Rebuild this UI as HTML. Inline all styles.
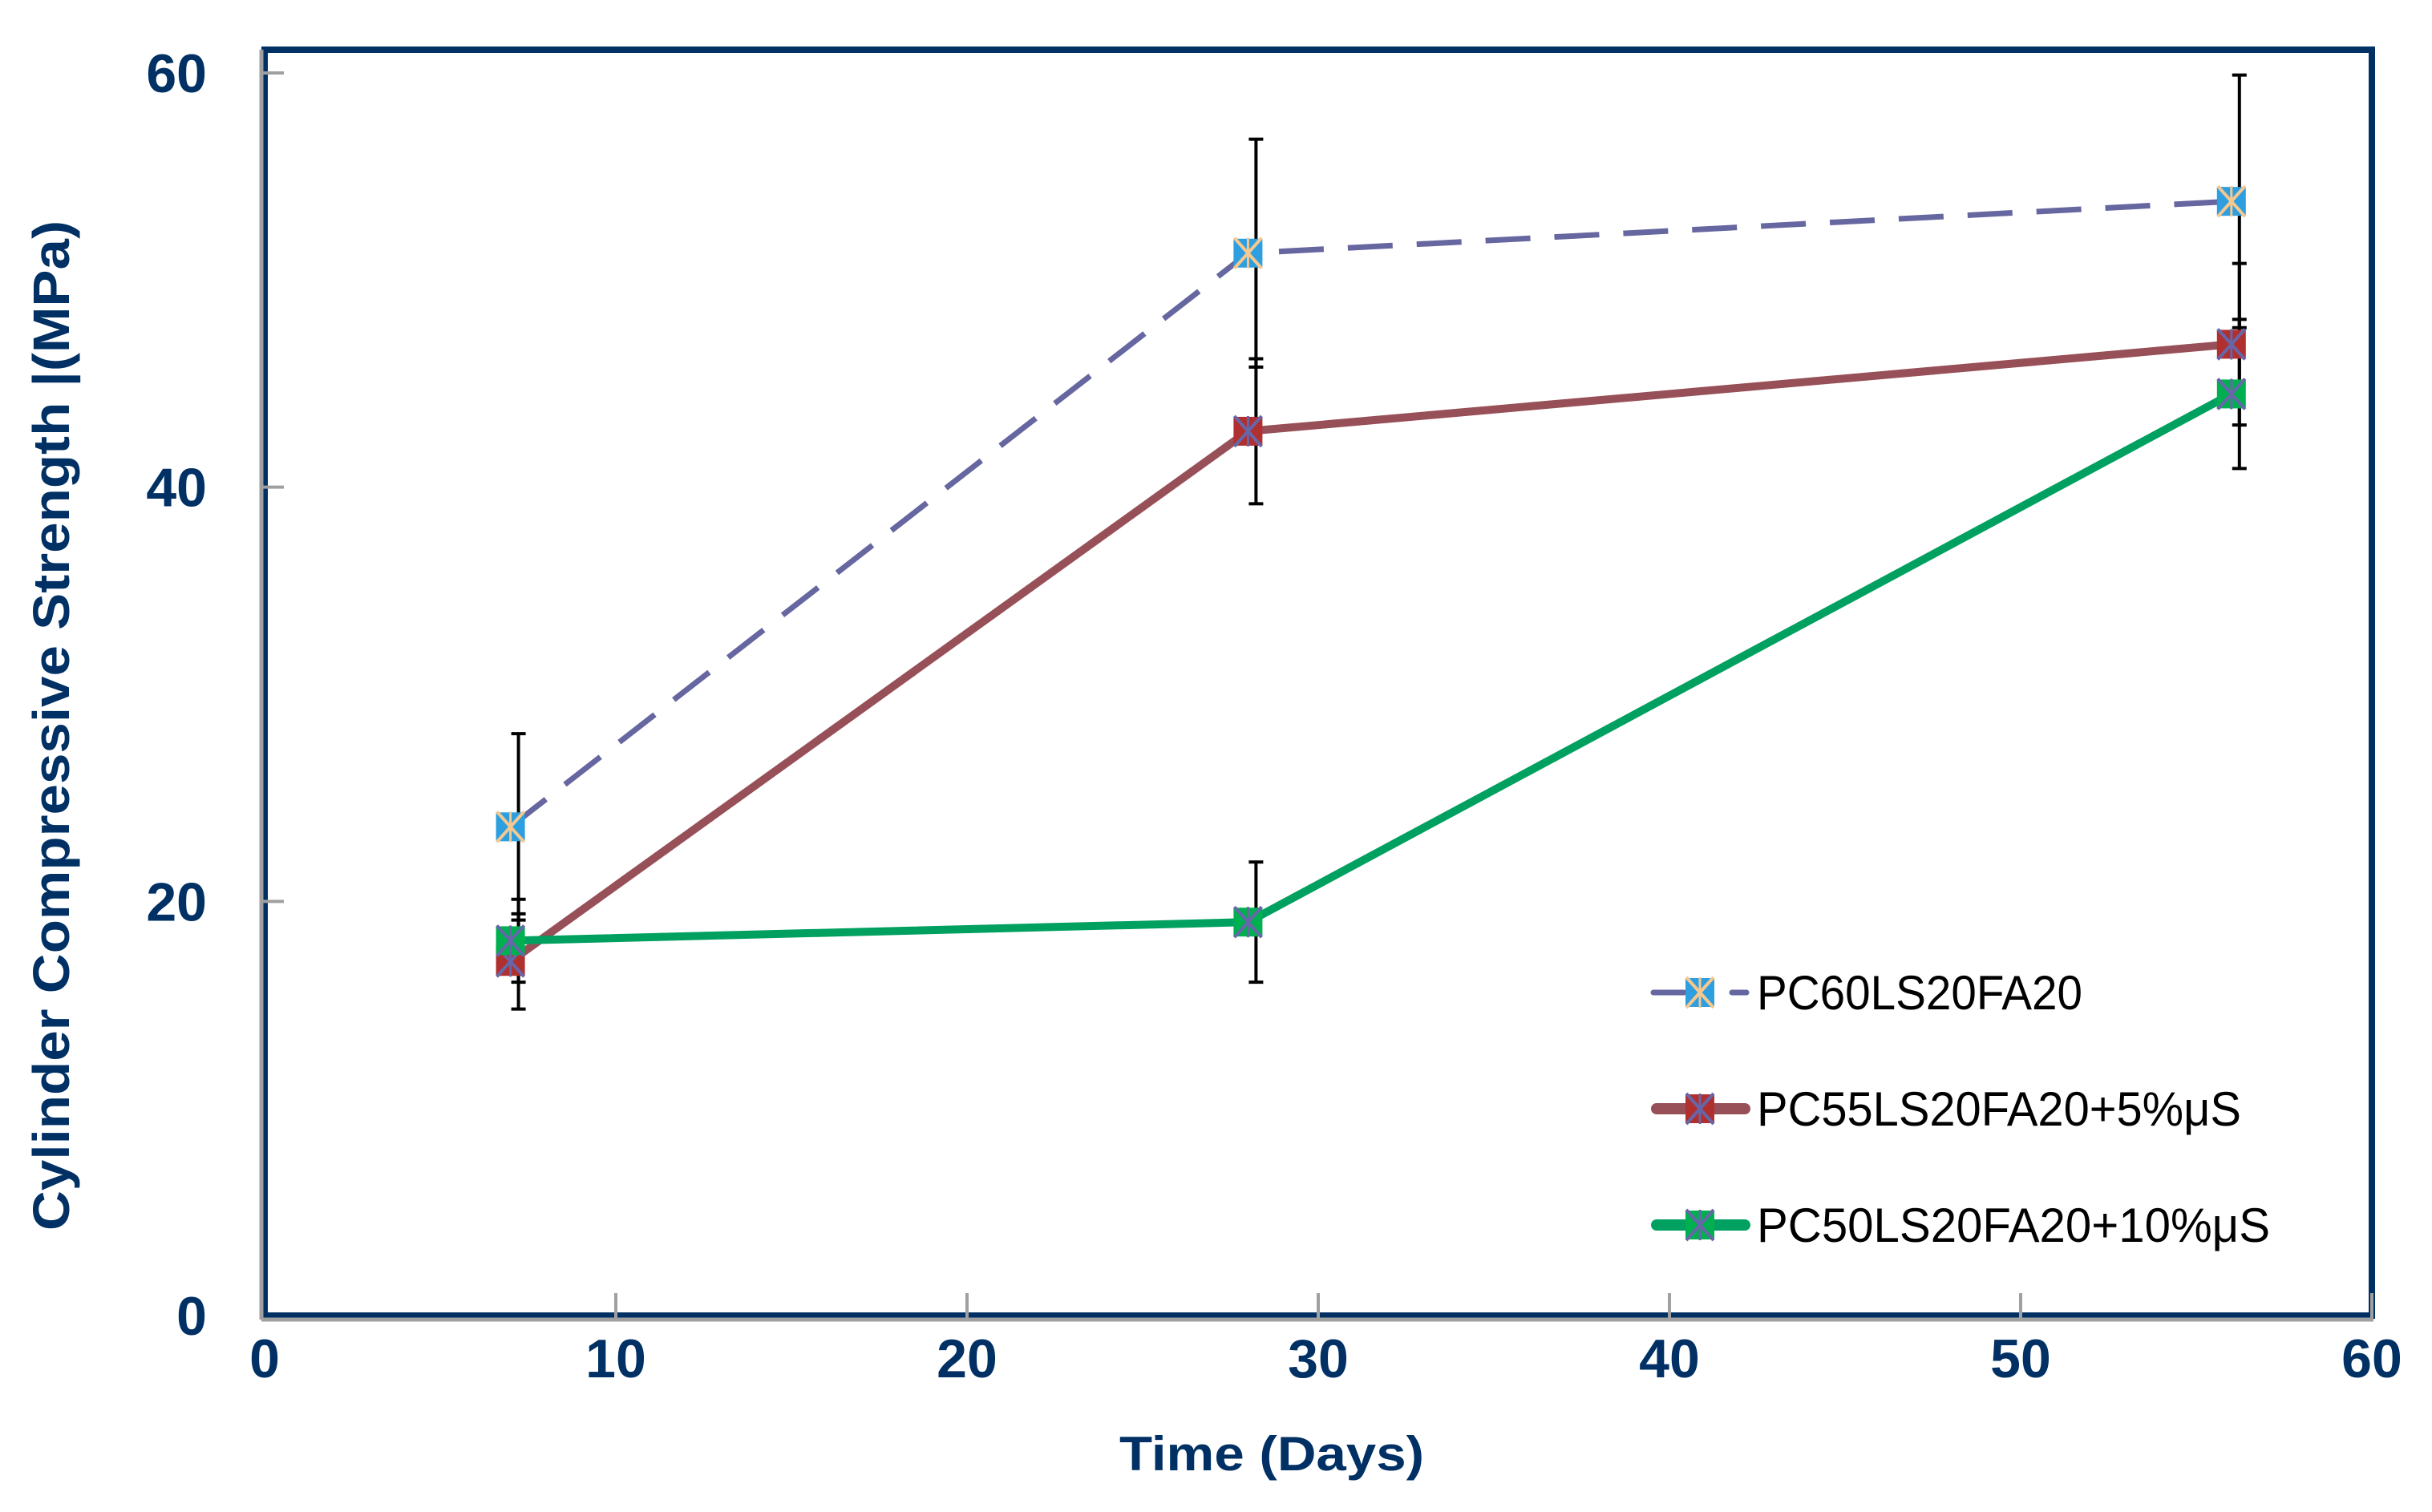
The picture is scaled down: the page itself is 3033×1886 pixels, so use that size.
<!DOCTYPE html>
<html><head><meta charset="utf-8"><style>
html,body{margin:0;padding:0;background:#fff;}
svg{display:block;}
</style></head><body>
<svg id="chart" width="3033" height="1886" viewBox="0 0 3033 1886" xmlns="http://www.w3.org/2000/svg" font-family="'Liberation Sans', sans-serif">
<g id="grid"></g>
<g id="series"></g>
<g id="legend"></g>
</svg>
<script>
const days = [7, 28, 56];
const seriesNames = ["PC60LS20FA20", "PC55LS20FA20+5%\u03bcS", "PC50LS20FA20+10%\u03bcS"];
const s1Values = [23.6, 51.3, 53.8];
const s2Values = [17.1, 42.7, 46.9];
const s3Values = [18.1, 19.0, 44.5];
const s1Err = [4.5, 5.5, 6.1];
const s2Err = [2.3, 3.5, 3.9];
const s3Err = [2.0, 2.9, 3.6];
const xTicks = [0, 10, 20, 30, 40, 50, 60];
const yTicks = [0, 20, 40, 60];

const X0 = 330, X1 = 2958, Y0 = 1641, Y1 = 91;
const xs = v => X0 + (v - 0) / 60 * (X1 - X0);
const ys = v => Y0 - v / 60 * (Y0 - Y1);
const NS = "http://www.w3.org/2000/svg";
function mk(tag, attrs, parent) {
  const e = document.createElementNS(NS, tag);
  for (const k in attrs) e.setAttribute(k, attrs[k]);
  parent.appendChild(e);
  return e;
}
const svg = document.getElementById('chart');
const grid = document.getElementById('grid');
const ser = document.getElementById('series');
const leg = document.getElementById('legend');
const navy = '#003064';

let fr = mk('rect', {x: X0, y: 62, width: X1 - X0, height: Y0 - 62, fill: 'none', stroke: navy, 'stroke-width': 8}, grid);


let ax = mk('line', {x1: X0 - 4, y1: 62, x2: X0 - 4, y2: Y0 + 5, stroke: '#a0a0a0', 'stroke-width': 5}, grid);


let axx = mk('line', {x1: X0 - 4, y1: Y0 + 5, x2: X1 + 2, y2: Y0 + 5, stroke: '#a0a0a0', 'stroke-width': 5}, grid);



xTicks.forEach(t => {
  if (t > 0) {
    const tk = mk('line', {x1: xs(t), y1: Y0 + 5, x2: xs(t), y2: Y0 - 28, stroke: '#a0a0a0', 'stroke-width': 4}, grid);
    
    
  }
  const tl = mk('text', {x: xs(t), y: 1718, 'text-anchor': 'middle', 'font-size': 68, 'font-weight': 'bold', fill: navy}, grid);
  tl.textContent = t;
  
  
});
yTicks.forEach(t => {
  if (t > 0) {
    const tk = mk('line', {x1: X0 - 4, y1: ys(t), x2: X0 + 24, y2: ys(t), stroke: '#a0a0a0', 'stroke-width': 4}, grid);
    
    
  }
  const tl = mk('text', {x: 258, y: ys(t) + 24, 'text-anchor': 'end', 'font-size': 68, 'font-weight': 'bold', fill: navy}, grid);
  tl.textContent = t;
  
  
});
let xt = mk('text', {x: 1586, y: 1834, 'text-anchor': 'middle', 'font-size': 60, 'font-weight': 'bold', fill: navy, textLength: 380, lengthAdjust: 'spacingAndGlyphs'}, grid);
xt.textContent = 'Time (Days)';


let yt = mk('text', {x: 0, y: 0, 'text-anchor': 'middle', 'font-size': 64, 'font-weight': 'bold', fill: navy, textLength: 1260, lengthAdjust: 'spacingAndGlyphs', transform: 'translate(86,905) rotate(-90)'}, grid);
yt.textContent = 'Cylinder Compressive Strength |(MPa)';



const cfg = [
  {vals: s1Values, err: s1Err, color: '#6666a0', w: 7, dash: '56 30', fill: '#2d9ee0', cross: '#f5c890', name: 'pc60'},
  {vals: s2Values, err: s2Err, color: '#985058', w: 10, dash: '', fill: '#b03030', cross: '#6666a8', name: 'pc55'},
  {vals: s3Values, err: s3Err, color: '#00a060', w: 10, dash: '', fill: '#00b050', cross: '#6666a8', name: 'pc50'}
];
function marker(cx, cy, c, parent, nm) {
  const g = mk('g', {}, parent);
  
  
  mk('rect', {x: cx - 17, y: cy - 17, width: 34, height: 34, fill: c.fill, stroke: c.fill, 'stroke-width': 2}, g);
  mk('line', {x1: cx - 17, y1: cy - 19, x2: cx + 17, y2: cy + 19, stroke: c.cross, 'stroke-width': 4}, g);
  mk('line', {x1: cx + 17, y1: cy - 19, x2: cx - 17, y2: cy + 19, stroke: c.cross, 'stroke-width': 4}, g);
  mk('line', {x1: cx, y1: cy - 19, x2: cx, y2: cy + 19, stroke: c.cross, 'stroke-width': 3}, g);
}
cfg.forEach((c, si) => {
  days.forEach((d, i) => {
    const x = xs(d) + 10, top = ys(c.vals[i] + c.err[i]), bot = ys(c.vals[i] - c.err[i]);
    const eb = mk('g', {stroke: '#000', 'stroke-width': 4}, ser);
    
    
    mk('line', {x1: x, y1: top, x2: x, y2: bot}, eb);
    mk('line', {x1: x - 9, y1: top, x2: x + 9, y2: top}, eb);
    mk('line', {x1: x - 9, y1: bot, x2: x + 9, y2: bot}, eb);
  });
});
cfg.forEach((c, si) => {
  const pts = days.map((d, i) => xs(d) + ',' + ys(c.vals[i])).join(' ');
  const pl = mk('polyline', {points: pts, fill: 'none', stroke: c.color, 'stroke-width': c.w, 'stroke-dasharray': c.dash, 'stroke-linejoin': 'round'}, ser);
  
  
  days.forEach((d, i) => marker(xs(d), ys(c.vals[i]), c, ser, 'point-' + c.name));
  const ly = 1238 + si * 145;
  const lg = mk('g', {}, leg);
  
  
  if (c.dash) {
    mk('line', {x1: 2062, y1: ly, x2: 2100, y2: ly, stroke: c.color, 'stroke-width': c.w, 'stroke-linecap': 'round'}, lg);
    mk('line', {x1: 2160, y1: ly, x2: 2178, y2: ly, stroke: c.color, 'stroke-width': c.w, 'stroke-linecap': 'round'}, lg);
  } else {
    mk('line', {x1: 2066, y1: ly, x2: 2176, y2: ly, stroke: c.color, 'stroke-width': 14, 'stroke-linecap': 'round'}, lg);
  }
  marker(2120, ly, c, lg, 'legend-marker-' + c.name);
  const t = mk('text', {x: 2191, y: ly + 21, 'font-size': 60, fill: '#000', textLength: [406, 604, 640][si], lengthAdjust: 'spacingAndGlyphs'}, lg);
  t.textContent = seriesNames[si];
});
</script>
</body></html>
